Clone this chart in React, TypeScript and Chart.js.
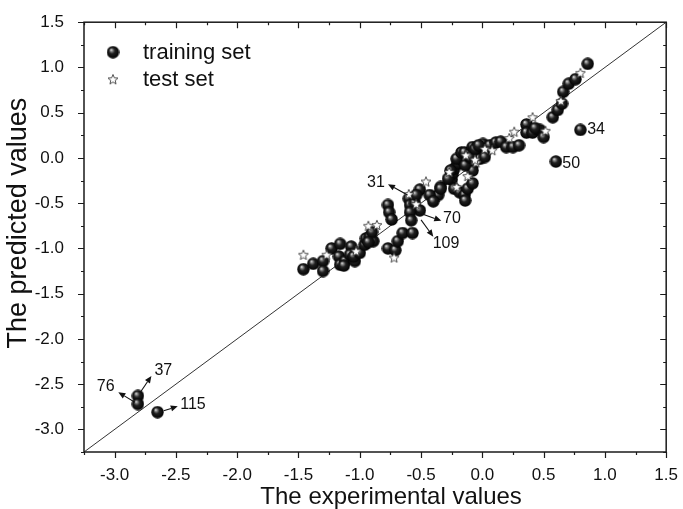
import React, { useEffect, useRef } from "react";
import { Chart, registerables } from "chart.js";
Chart.register(...registerables);

// ---------- data ----------
const trainingSet: [number, number][] = [
  [-2.81, -2.63], [-2.81, -2.72], [-2.65, -2.81],
  [-1.46, -1.23], [-1.38, -1.17], [-1.30, -1.14], [-1.30, -1.25], [-1.23, -1.00],
  [-1.16, -0.95], [-1.17, -1.09], [-1.16, -1.18], [-1.12, -1.14], [-1.13, -1.19],
  [-1.07, -0.98], [-1.08, -1.07], [-1.04, -1.14], [-1.05, -1.09], [-1.00, -1.05],
  [-0.96, -0.96], [-0.95, -0.89], [-0.92, -0.87], [-0.89, -0.92], [-0.90, -0.82],
  [-0.93, -0.93],
  [-0.77, -0.52], [-0.76, -0.60], [-0.74, -0.68], [-0.77, -1.00], [-0.71, -1.02],
  [-0.69, -0.92], [-0.65, -0.83], [-0.57, -0.83], [-0.60, -0.45], [-0.59, -0.52],
  [-0.55, -0.50], [-0.51, -0.58], [-0.59, -0.60], [-0.58, -0.69], [-0.51, -0.35],
  [-0.54, -0.41], [-0.34, -0.32], [-0.36, -0.41], [-0.43, -0.41], [-0.40, -0.48],
  [-0.34, -0.34], [-0.25, -0.24], [-0.24, -0.17], [-0.23, -0.12], [-0.20, -0.06],
  [-0.16, -0.03], [-0.21, -0.01], [-0.17, 0.06], [-0.145, 0.06], [-0.10, 0.045],
  [-0.08, -0.08], [-0.05, 0.045], [-0.02, -0.01], [-0.08, 0.12], [-0.04, 0.12],
  [0.005, 0.155], [0.03, 0.08], [0.06, 0.14], [0.11, 0.17], [0.15, 0.18],
  [0.195, 0.12], [0.25, 0.12], [0.30, 0.14], [-0.23, -0.34], [-0.185, -0.38],
  [-0.145, -0.41], [-0.12, -0.34], [-0.08, -0.28], [-0.14, -0.47], [-0.08, -0.14],
  [-0.14, -0.08], [-0.10, 0.01], [-0.06, 0.10], [-0.26, -0.14], [-0.28, -0.23],
  [-0.03, 0.14], [0.02, 0.01],
  [0.36, 0.37], [0.36, 0.28], [0.41, 0.28], [0.47, 0.31], [0.50, 0.23], [0.43, 0.33],
  [0.575, 0.45], [0.615, 0.53], [0.65, 0.60], [0.66, 0.73], [0.705, 0.82],
  [0.76, 0.87], [0.86, 1.04], [0.80, 0.31], [0.60, -0.04],
];

const testSet: [number, number][] = [
  [-1.46, -1.07], [-1.27, -1.07], [-1.03, -1.03], [-0.93, -0.75], [-0.86, -0.74],
  [-0.72, -1.10], [-0.60, -0.40], [-0.46, -0.26], [-0.54, -0.51], [-0.27, -0.155],
  [-0.21, -0.32], [-0.12, -0.20], [-0.05, -0.05], [0.02, 0.10], [-0.135, 0.03],
  [0.08, 0.085], [0.22, 0.22], [0.26, 0.29], [0.41, 0.45], [0.515, 0.30],
  [0.64, 0.63], [0.80, 0.94], [-0.06, -0.02],
];

const axisMin = -3.25;
const axisMax = 1.5;
const majorTicks = [-3.0, -2.5, -2.0, -1.5, -1.0, -0.5, 0.0, 0.5, 1.0, 1.5];
const minorTicks = [-3.25, -2.75, -2.25, -1.75, -1.25, -0.75, -0.25, 0.25, 0.75, 1.25];
const diagonal = [axisMin, axisMax];

const seriesNames = ["training set", "test set"];
const xTitle = "The experimental values";
const yTitle = "The predicted values";

// label, arrow tail, arrow tip (null = no arrow), text anchor, alignment
type Ann = { text: string; from: [number, number] | null; to: [number, number] | null; at: [number, number]; align: CanvasTextAlign };
const annotations: Ann[] = [
  { text: "31", from: [-0.61, -0.41], to: [-0.77, -0.29], at: [-0.795, -0.275], align: "right" },
  { text: "70", from: [-0.54, -0.595], to: [-0.335, -0.695], at: [-0.32, -0.675], align: "left" },
  { text: "109", from: [-0.50, -0.685], to: [-0.40, -0.87], at: [-0.405, -0.945], align: "left" },
  { text: "37", from: [-2.79, -2.59], to: [-2.70, -2.41], at: [-2.675, -2.35], align: "left" },
  { text: "76", from: [-2.835, -2.70], to: [-2.97, -2.59], at: [-3.0, -2.53], align: "right" },
  { text: "115", from: [-2.60, -2.795], to: [-2.485, -2.745], at: [-2.465, -2.73], align: "left" },
  { text: "34", from: null, to: null, at: [0.855, 0.31], align: "left" },
  { text: "50", from: null, to: null, at: [0.652, -0.065], align: "left" },
];

const FONT = "'Liberation Sans', Arial, Helvetica, sans-serif";

function makeSphere(d: number) {
  const c = document.createElement("canvas");
  c.width = d; c.height = d;
  const g = c.getContext("2d")!;
  const r = d / 2;
  const grad = g.createRadialGradient(r * 0.7, r * 0.6, 0, r, r, r);
  grad.addColorStop(0, "#ffffff");
  grad.addColorStop(0.16, "#9a9a9a");
  grad.addColorStop(0.45, "#202020");
  grad.addColorStop(1, "#000000");
  g.fillStyle = grad;
  g.beginPath();
  g.arc(r, r, r - 0.3, 0, Math.PI * 2);
  g.fill();
  return c;
}

function makeStar(d: number) {
  const c = document.createElement("canvas");
  c.width = d; c.height = d;
  const g = c.getContext("2d")!;
  const cx = d / 2, cy = d / 2 + 0.5;
  const ro = d / 2 - 0.8, ri = ro * 0.45;
  g.beginPath();
  for (let i = 0; i < 10; i++) {
    const a = -Math.PI / 2 + (i * Math.PI) / 5;
    const rr = i % 2 === 0 ? ro : ri;
    const px = cx + rr * Math.cos(a), py = cy + rr * Math.sin(a);
    if (i === 0) g.moveTo(px, py); else g.lineTo(px, py);
  }
  g.closePath();
  g.fillStyle = "#ffffff";
  g.fill();
  g.strokeStyle = "#3a3a3a";
  g.lineWidth = 0.9;
  g.stroke();
  return c;
}

function drawArrow(ctx: CanvasRenderingContext2D, x1: number, y1: number, x2: number, y2: number) {
  const ang = Math.atan2(y2 - y1, x2 - x1);
  const hl = 7, hw = 3;
  const bx = x2 - hl * Math.cos(ang), by = y2 - hl * Math.sin(ang);
  ctx.beginPath();
  ctx.moveTo(x1, y1);
  ctx.lineTo(bx, by);
  ctx.stroke();
  ctx.beginPath();
  ctx.moveTo(x2, y2);
  ctx.lineTo(bx + hw * Math.sin(ang), by - hw * Math.cos(ang));
  ctx.lineTo(bx - hw * Math.sin(ang), by + hw * Math.cos(ang));
  ctx.closePath();
  ctx.fill();
}

export default function App() {
  const ref = useRef<HTMLCanvasElement | null>(null);

  useEffect(() => {
    if (!ref.current) return;
    const sphere = makeSphere(13);
    const star = makeStar(12);

    const overlay = {
      id: "overlay",
      afterDatasetsDraw(chart: any) {
        const { ctx, chartArea, scales } = chart;
        const { left, right, top, bottom } = chartArea;
        const xs = scales.x, ys = scales.y;
        ctx.save();
        // frame
        ctx.strokeStyle = "#1a1a1a";
        ctx.lineWidth = 1.5;
        ctx.strokeRect(left, top, right - left, bottom - top);
        // ticks
        ctx.lineWidth = 1.2;
        const tick = (vals: number[], len: number) => {
          vals.forEach((v) => {
            const px = Math.round(xs.getPixelForValue(v)) + 0.5;
            const py = Math.round(ys.getPixelForValue(v)) + 0.5;
            ctx.beginPath();
            ctx.moveTo(px, bottom); ctx.lineTo(px, bottom + len);
            ctx.moveTo(px, top); ctx.lineTo(px, top + len);
            ctx.moveTo(left, py); ctx.lineTo(left - len, py);
            ctx.moveTo(right, py); ctx.lineTo(right - len, py);
            ctx.stroke();
          });
        };
        tick(majorTicks, 6);
        tick(minorTicks, 3);

        // annotations
        ctx.fillStyle = "#111";
        ctx.strokeStyle = "#111";
        ctx.lineWidth = 1.1;
        ctx.font = `16px ${FONT}`;
        ctx.textBaseline = "middle";
        annotations.forEach((a) => {
          if (a.from && a.to) {
            drawArrow(ctx,
              xs.getPixelForValue(a.from[0]), ys.getPixelForValue(a.from[1]),
              xs.getPixelForValue(a.to[0]), ys.getPixelForValue(a.to[1]));
          }
          ctx.textAlign = a.align;
          ctx.fillText(a.text, xs.getPixelForValue(a.at[0]), ys.getPixelForValue(a.at[1]));
        });

        // legend
        const lx = left + 29, ly1 = top + 30, ly2 = top + 57;
        ctx.drawImage(sphere, lx - sphere.width / 2, ly1 - sphere.height / 2);
        ctx.drawImage(star, lx - star.width / 2, ly2 - star.height / 2);
        ctx.font = `22px ${FONT}`;
        ctx.textAlign = "left";
        ctx.fillStyle = "#111";
        ctx.fillText(seriesNames[0], left + 59, ly1 + 1);
        ctx.fillText(seriesNames[1], left + 59, ly2 + 1);

        // axis titles
        ctx.textAlign = "center";
        ctx.textBaseline = "middle";
        ctx.font = `24px ${FONT}`;
        ctx.fillText(xTitle, (left + right) / 2 + 16, 497);
        ctx.translate(19, (top + bottom) / 2 - 14);
        ctx.rotate(-Math.PI / 2);
        ctx.font = `27px ${FONT}`;
        ctx.fillText(yTitle, 0, 0);
        ctx.restore();
      },
    };

    const tickFont = { family: FONT, size: 17 };

    const chart = new Chart(ref.current, {
      type: "scatter",
      data: {
        datasets: [
          {
            label: "diagonal",
            data: diagonal.map((v) => ({ x: v, y: v })),
            showLine: true,
            borderColor: "#333",
            borderWidth: 1,
            pointRadius: 0,
            order: 3,
          } as any,
          {
            label: seriesNames[0],
            data: trainingSet.map(([x, y]) => ({ x, y })),
            pointStyle: sphere,
            order: 2,
          } as any,
          {
            label: seriesNames[1],
            data: testSet.map(([x, y]) => ({ x, y })),
            pointStyle: star,
            order: 1,
          } as any,
        ],
      },
      options: {
        animation: false,
        responsive: false,
        maintainAspectRatio: false,
        layout: { padding: { top: 19, right: 16, left: 0, bottom: 0 } },
        plugins: { legend: { display: false }, tooltip: { enabled: false } },
        scales: {
          x: {
            type: "linear",
            min: axisMin,
            max: axisMax,
            grid: { display: false },
            border: { display: false },
            afterBuildTicks: (s: any) => { s.ticks = majorTicks.map((v) => ({ value: v })); },
            afterFit: (s: any) => { s.height = 57; },
            ticks: {
              callback: (v: any) => Number(v).toFixed(1),
              font: tickFont, color: "#111", padding: 5, maxRotation: 0, autoSkip: false,
            },
            title: { display: false },
          },
          y: {
            type: "linear",
            min: axisMin,
            max: axisMax,
            grid: { display: false },
            border: { display: false },
            afterBuildTicks: (s: any) => { s.ticks = majorTicks.map((v) => ({ value: v })); },
            afterFit: (s: any) => { s.width = 84; },
            ticks: {
              callback: (v: any) => Number(v).toFixed(1),
              font: tickFont, color: "#111", padding: 12, autoSkip: false,
            },
            title: { display: false },
          },
        },
      } as any,
      plugins: [overlay],
    });
    return () => chart.destroy();
  }, []);

  return (
    <div style={{ position: "fixed", left: 0, top: 0, width: 683, height: 509, background: "#fff" }}>
      <canvas ref={ref} width={683} height={509} style={{ display: "block" }} />
    </div>
  );
}
